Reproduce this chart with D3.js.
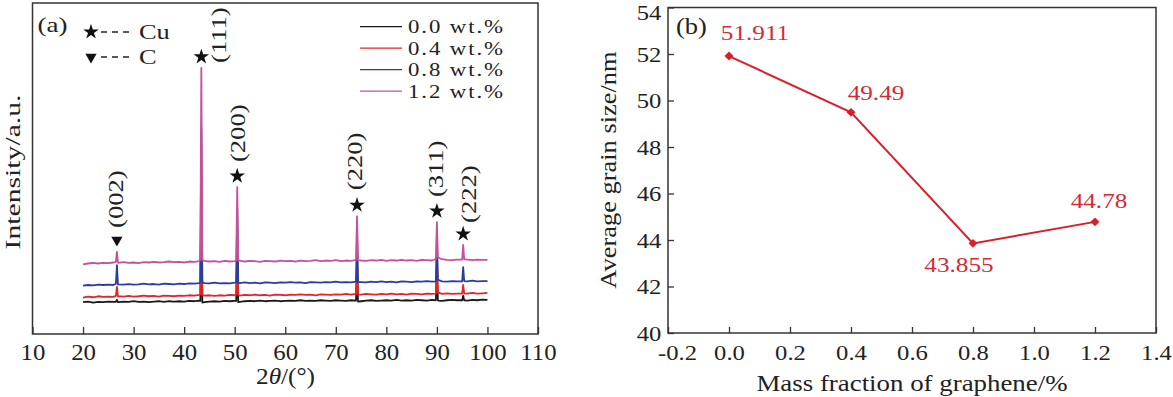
<!DOCTYPE html>
<html>
<head>
<meta charset="utf-8">
<script src="https://cdn.jsdelivr.net/npm/d3@7"></script>
<style>
  body { margin: 0; background: #fff; }
</style>
</head>
<body>
<script>
// ---- panel (a): XRD patterns ----
var xrdAngles = [20,21,22,23,24,25,26,27,28,29,30,31,32,33,34,35,36,37,38,39,40,41,42,43,44,45,46,47,48,49,50,
  51,52,53,54,55,56,57,58,59,60,61,62,63,64,65,66,67,68,69,70,71,72,73,74,75,76,77,78,79,80,
  81,82,83,84,85,86,87,88,89,90,91,92,93,94,95,96,97,98,99,100];

var black0 = [9.6,9.8,9.5,9.7,9.6,9.8,9.7,9.6,9.8,9.7,9.9,9.7,9.8,9.6,9.8,9.9,9.7,9.9,9.8,9.9,9.8,10.0,9.9,10.1,9.6,9.8,9.9,9.8,10.0,9.9,10.0,
  9.7,9.9,10.0,9.9,10.1,9.9,10.0,10.1,9.9,10.0,10.1,10.0,10.2,10.0,10.1,10.0,10.2,10.1,10.0,10.2,10.1,10.0,10.2,10.1,9.9,10.1,10.2,10.0,10.1,10.2,
  10.1,10.3,10.1,10.2,10.1,10.3,10.2,10.1,10.3,10.2,10.0,10.2,10.3,10.2,10.3,10.1,10.3,10.2,10.4,10.3];
var red04 = [11.0,11.3,11.1,11.4,11.2,11.3,11.2,11.4,11.3,11.5,11.3,11.4,11.6,11.4,11.5,11.3,11.6,11.5,11.4,11.6,11.5,11.7,11.6,11.8,11.6,11.7,11.5,11.7,11.6,11.8,11.7,
  11.6,11.8,11.7,11.9,11.7,11.8,11.6,11.9,11.8,11.7,11.9,11.8,12.0,11.8,11.9,11.7,12.0,11.9,11.8,12.0,11.9,12.1,11.9,12.0,11.9,12.1,12.0,11.9,12.1,12.0,
  12.2,12.0,12.1,11.9,12.2,12.1,12.0,12.2,12.1,12.2,12.1,12.3,12.1,12.2,12.3,12.2,12.4,12.2,12.3,12.4];
var blue08 = [14.6,14.8,14.7,14.9,14.8,14.9,14.8,15.0,14.9,15.1,14.9,15.0,15.2,15.0,15.1,14.9,15.2,15.1,15.0,15.2,15.1,15.3,15.2,15.4,15.4,15.3,15.5,15.3,15.4,15.3,15.5,
  15.4,15.6,15.4,15.5,15.3,15.6,15.5,15.4,15.6,15.5,15.7,15.5,15.6,15.4,15.7,15.6,15.5,15.7,15.6,15.8,15.6,15.7,15.6,15.8,15.7,15.6,15.8,15.7,15.9,15.7,
  15.8,15.6,15.9,15.8,15.7,15.9,15.8,16.0,15.8,15.9,15.9,15.8,16.0,15.9,16.0,15.9,16.1,15.9,16.0,16.0];
var pink12 = [21.0,21.3,21.5,21.3,21.5,21.4,21.6,21.5,21.7,21.5,21.6,21.4,21.7,21.6,21.8,21.6,21.7,21.9,21.7,21.8,21.6,21.9,21.8,22.0,22.1,21.9,22.0,21.8,22.1,21.9,22.0,
  22.2,21.9,22.1,22.0,21.8,22.1,22.0,21.9,22.2,22.0,22.1,21.9,22.2,22.0,22.1,22.3,22.0,22.2,22.1,22.3,22.0,22.2,22.1,22.3,22.2,22.1,22.3,22.2,22.4,22.1,
  22.3,22.2,22.4,22.2,22.3,22.1,22.4,22.3,22.2,22.4,22.6,22.4,22.3,22.5,22.4,22.5,22.3,22.5,22.4,22.4];

var peakAngles = [26.7, 43.4, 50.5, 74.2, 90.0, 95.2];
var peakLabels = ["(002)", "(111)", "(200)", "(220)", "(311)", "(222)"];
var peakPhase = ["C", "Cu", "Cu", "Cu", "Cu", "Cu"];
// [left foot, top, right foot] for each peak
var blackPeaks = [[9.7,10.3,9.6],[10.0,40,9.5],[10.0,25,9.6],[10.1,20,9.8],[10.2,20,10.1],[10.2,11.6,10.2]];
var redPeaks = [[11.5,14.2,11.4],[12.0,50,11.8],[11.9,32,11.8],[12.1,26,12.0],[12.2,25,12.6],[12.2,14.8,12.3]];
var bluePeaks = [[15.2,20.8,15.0],[15.8,62,15.6],[15.6,38,15.5],[15.8,30,15.7],[15.9,29,16.4],[15.9,20.2,16.0]];
var pinkPeaks = [[21.8,24.8,21.6],[22.5,80.4,22.3],[22.3,44.4,22.2],[22.4,35.6,22.3],[22.6,33.8,23.2],[22.5,26.9,22.6]];

var seriesNames = ["0.0 wt.%", "0.4 wt.%", "0.8 wt.%", "1.2 wt.%"];
var seriesColors = ["#1a1a1a", "#e3242b", "#2a3c9c", "#c4529b"];
var xTicksA = [10, 20, 30, 40, 50, 60, 70, 80, 90, 100, 110];

// ---- panel (b): grain size ----
var grapheneFraction = [0.0, 0.4, 0.8, 1.2];
var grainSize = [51.911, 49.49, 43.855, 44.78];
var xTicksB = [-0.2, 0.0, 0.2, 0.4, 0.6, 0.8, 1.0, 1.2, 1.4];
var yTicksB = [40, 42, 44, 46, 48, 50, 52, 54];

var SERIF = "'Liberation Serif','Times New Roman',serif";
var W = 1173, H = 397;

var svg = d3.select("body").append("svg")
    .attr("width", W).attr("height", H)
    .style("background", "#fff");

// text helper, sx stretches along the reading direction
function txt(g, x, y, s, o) {
    o = o || {};
    var t = g.append("text")
        .attr("transform", "translate(" + x + "," + y + ")" + (o.rot ? " rotate(" + o.rot + ")" : "") + " scale(" + (o.sx || 1) + ",1)")
        .attr("font-family", SERIF)
        .attr("font-size", o.size || 22)
        .attr("fill", o.fill || "#222")
        .attr("text-anchor", o.anchor || "start")
        .text(s);
    if (o.ls) t.attr("letter-spacing", o.ls);
    return t;
}

// ================= panel (a) =================
var xA = d3.scaleLinear().domain([10, 110]).range([32.5, 538]);
var yA = d3.scaleLinear().domain([0, 100]).range([334, 3]);

function buildSeries(base, peaks) {
    var pts = xrdAngles.map(function(a, i) { return [a, base[i]]; })
        .filter(function(p) { return peakAngles.every(function(c) { return Math.abs(p[0] - c) > 0.25; }); });
    peaks.forEach(function(t, j) {
        var c = peakAngles[j];
        pts.push([c - 0.2, t[0]], [c, t[1]], [c + 0.2, t[2]]);
    });
    return pts.sort(function(a, b) { return a[0] - b[0]; });
}

var xrdSeries = [
    buildSeries(black0, blackPeaks),
    buildSeries(red04, redPeaks),
    buildSeries(blue08, bluePeaks),
    buildSeries(pink12, pinkPeaks)
];

var gA = svg.append("g");

var axA = d3.axisBottom(xA).tickValues(xTicksA).tickSizeInner(-7).tickSizeOuter(0).tickPadding(10);
var axAg = gA.append("g").attr("transform", "translate(0,334)").call(axA);
axAg.select(".domain").remove();
axAg.selectAll(".tick line").attr("stroke", "#333").attr("stroke-width", 1.3);
axAg.selectAll(".tick text")
    .attr("font-family", SERIF).attr("font-size", 23).attr("fill", "#222")
    .attr("transform", "scale(1.08,1)");

var lineA = d3.line().x(function(d) { return xA(d[0]); }).y(function(d) { return yA(d[1]); });

gA.selectAll("path.xrd")
    .data(xrdSeries)
    .enter()
    .append("path")
    .attr("class", "xrd")
    .attr("d", lineA)
    .attr("fill", "none")
    .attr("stroke", function(d, i) { return seriesColors[i]; })
    .attr("stroke-width", 1.8)
    .attr("stroke-linejoin", "round");

gA.append("rect")
    .attr("x", xA(10)).attr("y", yA(100))
    .attr("width", xA(110) - xA(10)).attr("height", yA(0) - yA(100))
    .attr("fill", "none").attr("stroke", "#333").attr("stroke-width", 1.5);

// peak markers + labels
var peakLabelDx = [6, 25, 8, 5, 6, 13];
var peakLabelDy = [-12, 6, -14, -15, -14, -11];
var star = d3.symbol().type(d3.symbolStar).size(75);
var tri = d3.symbol().type(d3.symbolTriangle).size(55);

peakAngles.forEach(function(c, j) {
    var px = xA(c);
    var my = yA(pinkPeaks[j][1]) - (peakPhase[j] === "C" ? 12 : 11);
    gA.append("path")
        .attr("d", peakPhase[j] === "C" ? tri() : star())
        .attr("transform", "translate(" + px + "," + my + ")" + (peakPhase[j] === "C" ? " rotate(180)" : ""))
        .attr("fill", "#111");
    txt(gA, px + peakLabelDx[j], my + peakLabelDy[j], peakLabels[j], { size: 20, sx: 1.33, rot: -90 });
});

txt(gA, 37.5, 32, "(a)", { size: 20, sx: 1.35 });

// phase key
[["Cu", 32, star, 0], ["C", 57, tri, 180]].forEach(function(k) {
    gA.append("path").attr("d", k[2]())
        .attr("transform", "translate(91," + k[1] + ") rotate(" + k[3] + ")")
        .attr("fill", "#111");
    gA.append("line").attr("x1", 101).attr("x2", 134).attr("y1", k[1]).attr("y2", k[1])
        .attr("stroke", "#222").attr("stroke-width", 1.4).attr("stroke-dasharray", "6,5");
    txt(gA, 139, k[1] + 7, k[0], { size: 22, sx: 1.2 });
});

// series legend
seriesNames.forEach(function(n, i) {
    var ly = 26.7 + i * 21.5;
    gA.append("line").attr("x1", 360).attr("x2", 402).attr("y1", ly).attr("y2", ly)
        .attr("stroke", seriesColors[i]).attr("stroke-width", 1.3);
    txt(gA, 408, ly + 6.5, n, { size: 19, sx: 1.2, ls: 1.6 });
});

txt(gA, 20, 172, "Intensity/a.u.", { size: 22, sx: 1.35, rot: -90, anchor: "middle" });

var ttlA = txt(gA, 285.5, 384, "", { size: 23, sx: 1.1, anchor: "middle" });
ttlA.append("tspan").text("2");
ttlA.append("tspan").attr("font-style", "italic").text("θ");
ttlA.append("tspan").text("/(°)");

// ================= panel (b) =================
var xB = d3.scaleLinear().domain([-0.2, 1.4]).range([668, 1156]);
var yB = d3.scaleLinear().domain([40, 54]).range([333, 7.5]);
var gB = svg.append("g");

var axBx = gB.append("g").attr("transform", "translate(0,333)")
    .call(d3.axisBottom(xB).tickValues(xTicksB).tickFormat(function(d) { return d.toFixed(1); })
        .tickSizeInner(-6).tickSizeOuter(0).tickPadding(11));
var axBy = gB.append("g").attr("transform", "translate(668,0)")
    .call(d3.axisLeft(yB).tickValues(yTicksB).tickSizeInner(-6).tickSizeOuter(0).tickPadding(6));
[axBx, axBy].forEach(function(a) {
    a.select(".domain").remove();
    a.selectAll(".tick line").attr("stroke", "#333").attr("stroke-width", 1.3);
    a.selectAll(".tick text")
        .attr("font-family", SERIF).attr("font-size", 22).attr("fill", "#222")
        .attr("transform", "scale(1.12,1)");
});
axBx.selectAll(".tick text").filter(function(d) { return d < 0; }).attr("x", 8);
// keep the top label inside the picture
axBy.selectAll(".tick text").filter(function(d) { return d === 54; }).attr("y", 5);

gB.append("rect")
    .attr("x", xB(-0.2)).attr("y", yB(54))
    .attr("width", xB(1.4) - xB(-0.2)).attr("height", yB(40) - yB(54))
    .attr("fill", "none").attr("stroke", "#333").attr("stroke-width", 1.5);

var grainData = grapheneFraction.map(function(f, i) { return [f, grainSize[i]]; });
var lineB = d3.line().x(function(d) { return xB(d[0]); }).y(function(d) { return yB(d[1]); });

gB.append("path")
    .datum(grainData)
    .attr("d", lineB)
    .attr("fill", "none").attr("stroke", "#d7202b").attr("stroke-width", 2);

gB.selectAll("path.pt")
    .data(grainData)
    .enter()
    .append("path")
    .attr("class", "pt")
    .attr("d", d3.symbol().type(d3.symbolSquare).size(40)())
    .attr("transform", function(d) { return "translate(" + xB(d[0]) + "," + yB(d[1]) + ") rotate(45)"; })
    .attr("fill", "#d7202b");

var valueLabelOffset = [[26, -16], [25, -12], [-14, 29], [4, -14]];
grainData.forEach(function(d, i) {
    txt(gB, xB(d[0]) + valueLabelOffset[i][0], yB(d[1]) + valueLabelOffset[i][1], String(grainSize[i]),
        { size: 21, sx: 1.2, anchor: "middle", fill: "#d42a35" });
});

txt(gB, 676, 34, "(b)", { size: 23, sx: 1.15 });
txt(gB, 616, 170, "Average grain size/nm", { size: 23, sx: 1.15, rot: -90, anchor: "middle" });
txt(gB, 912, 391, "Mass fraction of graphene/%", { size: 24, sx: 1.12, anchor: "middle" });
</script>
</body>
</html>
